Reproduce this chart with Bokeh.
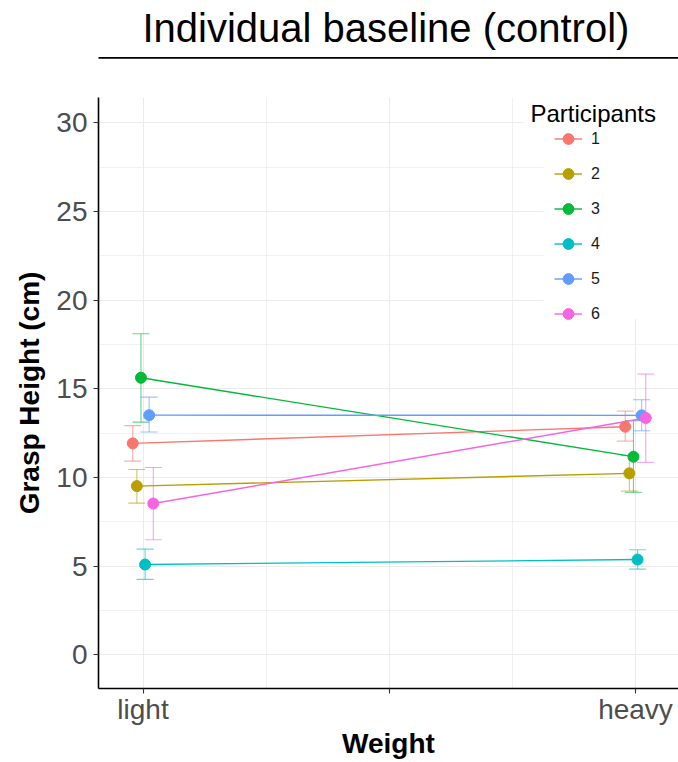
from bokeh.plotting import figure
from bokeh.layouts import column
from bokeh.core.properties import value
from bokeh.models import (ColumnDataSource, FixedTicker, Whisker, TeeHead, Legend,
                          LegendItem, Label, BoxAnnotation, Range1d)
from bokeh.embed import file_html
from bokeh.resources import INLINE

# ---------------- data ----------------
title_text = "Individual baseline (control)"
participants = ["1", "2", "3", "4", "5", "6"]
colors = ["#F8766D", "#B79F00", "#00BA38", "#00BFC4", "#619CFF", "#F564E3"]
weight_labels = ["light", "heavy"]
weight_positions = [1, 2]

light_mean = [11.92, 9.51, 15.62, 5.09, 13.51, 8.53]
light_lower = [10.92, 8.55, 13.12, 4.25, 12.56, 6.49]
light_upper = [12.92, 10.45, 18.10, 5.96, 14.53, 10.56]

heavy_mean = [12.86, 10.23, 11.17, 5.37, 13.50, 13.35]
heavy_lower = [12.05, 9.23, 9.16, 4.83, 12.63, 10.85]
heavy_upper = [13.74, 11.23, 13.20, 5.92, 14.38, 15.83]

y_ticks = [0, 5, 10, 15, 20, 25, 30]
y_minor = [2.5, 7.5, 12.5, 17.5, 22.5, 27.5]

dodge_width = 0.05
FONT = "Liberation Sans"

W = 678
TOP_H = 97
MAIN_H = 762 - TOP_H
FRAME_LEFT = 98

# ---------------- title strip (its frame is aligned with the main frame) ----------------
pt = figure(width=W, height=TOP_H, output_backend="svg", toolbar_location=None,
            x_range=Range1d(FRAME_LEFT, W), y_range=Range1d(TOP_H, 0),
            x_axis_type=None, y_axis_type=None, min_border=0)
pt.outline_line_color = None
pt.background_fill_color = "white"
pt.border_fill_color = "white"
pt.text(x=[385.4], y=[27.4], text=[title_text], text_font=value(FONT),
        text_font_size="40px", text_align="center", text_baseline="alphabetic",
        text_color="black")
pt.segment(x0=[93], y0=[57.3], x1=[W], y1=[57.3], line_color="black", line_width=1.8)

# ---------------- main figure ----------------
p = figure(width=W, height=MAIN_H, output_backend="svg", toolbar_location=None,
           x_range=Range1d(0.9096, 2.0873), y_range=Range1d(-1.90, 31.42),
           min_border_left=FRAME_LEFT, min_border_right=0, min_border_top=0,
           min_border_bottom=74)
p.background_fill_color = "white"
p.border_fill_color = "white"
p.outline_line_color = None

xa = p.xaxis[0]
ya = p.yaxis[0]
mid = (weight_positions[0] + weight_positions[1]) / 2
xa.ticker = FixedTicker(ticks=[weight_positions[0], mid, weight_positions[1]],
                        minor_ticks=[(weight_positions[0] + mid) / 2, (mid + weight_positions[1]) / 2])
xa.major_label_overrides = {weight_positions[0]: weight_labels[0], mid: "",
                            weight_positions[1]: weight_labels[1]}
ya.ticker = FixedTicker(ticks=y_ticks, minor_ticks=y_minor)

for ax in (xa, ya):
    ax.axis_line_color = "black"
    ax.axis_line_width = 1.6
    ax.major_tick_line_color = "#333333"
    ax.major_tick_line_width = 1.1
    ax.major_tick_out = 5
    ax.major_tick_in = 0
    ax.minor_tick_line_color = None
    ax.major_label_text_font = FONT
    ax.major_label_text_color = "#4D4D4D"
    ax.axis_label_text_font = FONT
    ax.axis_label_text_font_style = "bold"
    ax.axis_label_text_color = "black"

xa.axis_label = "Weight"
xa.major_label_text_font_size = "28px"
xa.axis_label_text_font_size = "28px"
xa.major_label_standoff = 0
xa.axis_label_standoff = 0

ya.axis_label = "Grasp Height (cm)"
ya.major_label_text_font_size = "28px"
ya.axis_label_text_font_size = "28px"
ya.major_label_standoff = 6
ya.axis_label_standoff = 8

for g in (p.xgrid[0], p.ygrid[0]):
    g.grid_line_color = "#EBEBEB"
    g.grid_line_width = 1.1
    g.minor_grid_line_color = "#EBEBEB"
    g.minor_grid_line_width = 0.7


# helpers: legend placement from the reference's pixel layout
def px_to_x(px):
    return weight_positions[0] + (px - 142.5) / 492.5 * (weight_positions[1] - weight_positions[0])


def px_to_y(py):
    return (654.3 - py) / 17.73


# legend background (white)
p.add_layout(BoxAnnotation(left=px_to_x(523), right=None, top=None, bottom=px_to_y(124.5),
                           fill_color="white", fill_alpha=1, line_color=None, level="underlay"))
p.add_layout(BoxAnnotation(left=px_to_x(543), right=None, top=px_to_y(124.5), bottom=px_to_y(319),
                           fill_color="white", fill_alpha=1, line_color=None, level="underlay"))

# ---------------- marks ----------------
n = len(participants)
sources = []
for i in range(n):
    off = (i - (n - 1) / 2) * dodge_width / n
    src = ColumnDataSource(dict(
        x=[weight_positions[0] + off, weight_positions[1] + off],
        mean=[light_mean[i], heavy_mean[i]],
        lower=[light_lower[i], heavy_lower[i]],
        upper=[light_upper[i], heavy_upper[i]],
    ))
    sources.append(src)
    c = colors[i]
    w = Whisker(source=src, base="x", upper="upper", lower="lower", dimension="height",
                line_color=c, line_alpha=0.6, line_width=1.1,
                upper_head=TeeHead(size=17, line_color=c, line_alpha=0.6, line_width=1.1),
                lower_head=TeeHead(size=17, line_color=c, line_alpha=0.6, line_width=1.1),
                level="underlay")
    p.add_layout(w)

line_rs = []
for i in range(n):
    line_rs.append(p.line("x", "mean", source=sources[i], line_color=colors[i], line_width=1.4))
pt_rs = []
for i in range(n):
    pt_rs.append(p.scatter("x", "mean", source=sources[i], size=11,
                           fill_color=colors[i], line_color=colors[i]))

legend = Legend(items=[LegendItem(label=participants[i], renderers=[line_rs[i], pt_rs[i]])
                       for i in range(n)],
                location=(456, 361), orientation="vertical",
                glyph_width=28, glyph_height=27, label_height=27, label_width=20,
                spacing=8, padding=0, margin=0, label_standoff=9,
                label_text_font=FONT, label_text_font_size="16px", label_text_color="#1A1A1A",
                background_fill_alpha=0, border_line_color=None)
p.add_layout(legend)

p.add_layout(Label(x=px_to_x(530), y=px_to_y(113), text="Participants", text_font=FONT,
                   text_font_size="24px", text_color="black", text_align="left",
                   text_baseline="alphabetic"))

layout = column(pt, p, spacing=0)
open("out.html", "w").write(file_html(layout, INLINE))
